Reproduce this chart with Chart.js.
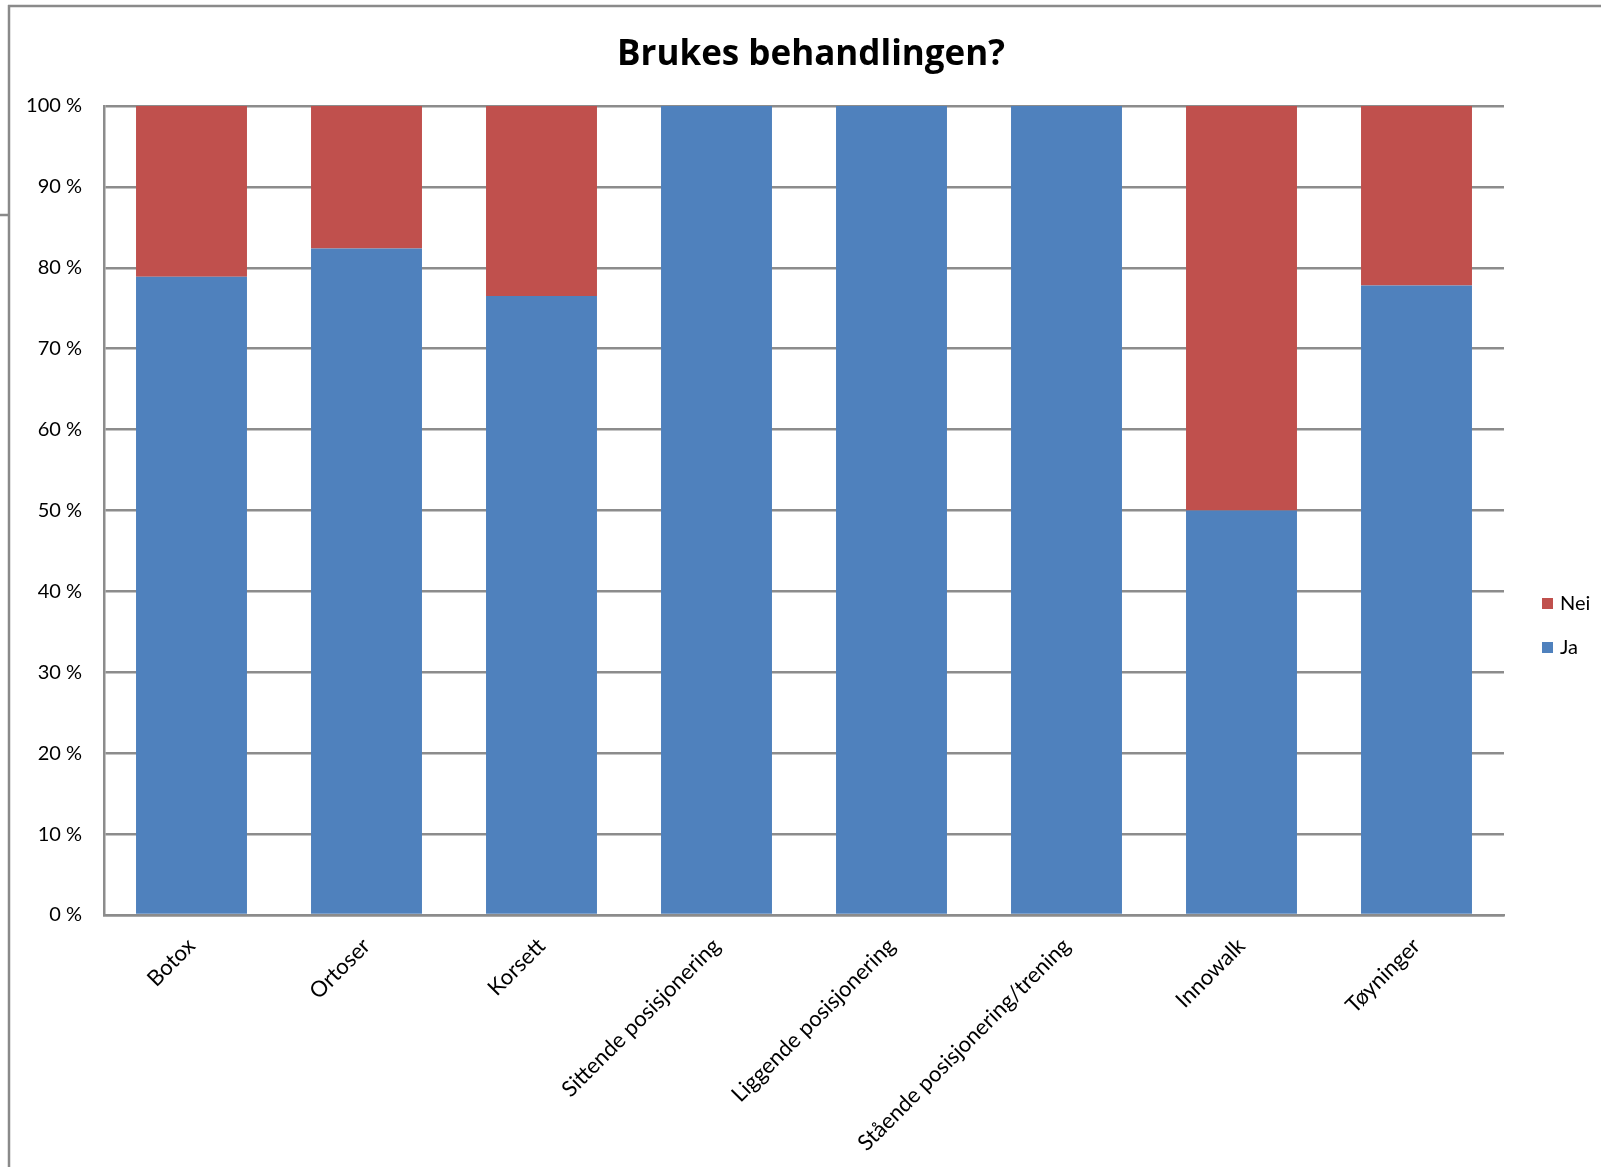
<!DOCTYPE html>
<html>
<head>
<meta charset="utf-8">
<title>Brukes behandlingen?</title>
<script src="https://cdn.jsdelivr.net/npm/chart.js@4.4.1/dist/chart.umd.min.js"></script>
<style>
  html, body { margin: 0; padding: 0; background: #fff; }
  #wrap { width: 1601px; height: 1167px; }
</style>
</head>
<body>
<div id="wrap"><canvas id="chart" width="1601" height="1167"></canvas></div>
<script>
// behandlinger og andel svar (prosent)
const categories = [
  'Botox', 'Ortoser', 'Korsett', 'Sittende posisjonering',
  'Liggende posisjonering', 'Stående posisjonering/trening', 'Innowalk', 'Tøyninger'
];
const jaValues = [78.9, 82.4, 76.5, 100, 100, 100, 50, 77.8];
const neiValues = [21.1, 17.6, 23.5, 0, 0, 0, 50, 22.2];
const yTicks = [0, 10, 20, 30, 40, 50, 60, 70, 80, 90, 100];
const chartTitle = 'Brukes behandlingen?';

const BLUE = '#4f81bd';
const RED = '#c0504d';
const GRID = '#8c8c8c';
const FONT = 'Lato, "Open Sans", sans-serif';

// ramme rundt diagrammet
const framePlugin = {
  id: 'frame',
  beforeDraw(chart) {
    const ctx = chart.ctx;
    ctx.save();
    ctx.strokeStyle = '#8a8a8a';
    ctx.lineWidth = 2.5;
    ctx.beginPath();
    ctx.moveTo(8, 6);
    ctx.lineTo(chart.width, 6);
    ctx.moveTo(9, 5);
    ctx.lineTo(9, chart.height);
    ctx.moveTo(0, 215);
    ctx.lineTo(9, 215);
    ctx.stroke();
    ctx.restore();
  }
};

// tittel midt over hele figuren
const titlePlugin = {
  id: 'topTitle',
  afterDraw(chart) {
    const ctx = chart.ctx;
    ctx.save();
    ctx.font = 'bold 35px "Open Sans", Lato, sans-serif';
    ctx.fillStyle = '#000';
    ctx.textAlign = 'center';
    ctx.textBaseline = 'alphabetic';
    ctx.fillText(chartTitle, 811, 65);
    ctx.restore();
  }
};

// forklaring til høyre, Nei over Ja
const legendPlugin = {
  id: 'sideLegend',
  afterDraw(chart) {
    const ctx = chart.ctx;
    const items = chart.data.datasets.slice().reverse();
    ctx.save();
    ctx.font = '20px ' + FONT;
    ctx.textBaseline = 'middle';
    items.forEach((ds, i) => {
      const y = 604 + i * 44;
      ctx.fillStyle = ds.backgroundColor;
      ctx.fillRect(1542, y - 6, 11, 11);
      ctx.fillStyle = '#000';
      ctx.fillText(ds.label, 1560, y);
    });
    ctx.restore();
  }
};

const config = {
  type: 'bar',
  data: {
    labels: categories,
    datasets: [
      {
        label: 'Ja',
        data: jaValues,
        backgroundColor: BLUE,
        borderWidth: 0,
        barPercentage: 0.634,
        categoryPercentage: 1
      },
      {
        label: 'Nei',
        data: neiValues,
        backgroundColor: RED,
        borderWidth: 0,
        barPercentage: 0.634,
        categoryPercentage: 1
      }
    ]
  },
  options: {
    responsive: false,
    animation: false,
    layout: {
      padding: { left: 0, right: 97, top: 106, bottom: 0 }
    },
    scales: {
      x: {
        stacked: true,
        grid: { display: false },
        border: { display: true, color: GRID, width: 2.5 },
        ticks: {
          color: '#000',
          font: { family: FONT, size: 22 },
          maxRotation: 45,
          minRotation: 45,
          padding: 10
        },
        afterFit: scale => { scale.height = 252; }
      },
      y: {
        stacked: true,
        min: 0,
        max: 100,
        afterBuildTicks: scale => {
          scale.ticks = yTicks.map(v => ({ value: v }));
        },
        grid: { color: GRID, lineWidth: 2.5, drawTicks: false },
        border: { display: true, color: GRID, width: 2.5 },
        ticks: {
          color: '#000',
          font: { family: FONT, size: 20 },
          padding: 22,
          callback: v => v + ' %'
        },
        afterFit: scale => { scale.width = 104; }
      }
    },
    plugins: {
      legend: { display: false },
      tooltip: { enabled: false },
      title: { display: false }
    }
  },
  plugins: [framePlugin, titlePlugin, legendPlugin]
};

new Chart(document.getElementById('chart'), config);
</script>
</body>
</html>
